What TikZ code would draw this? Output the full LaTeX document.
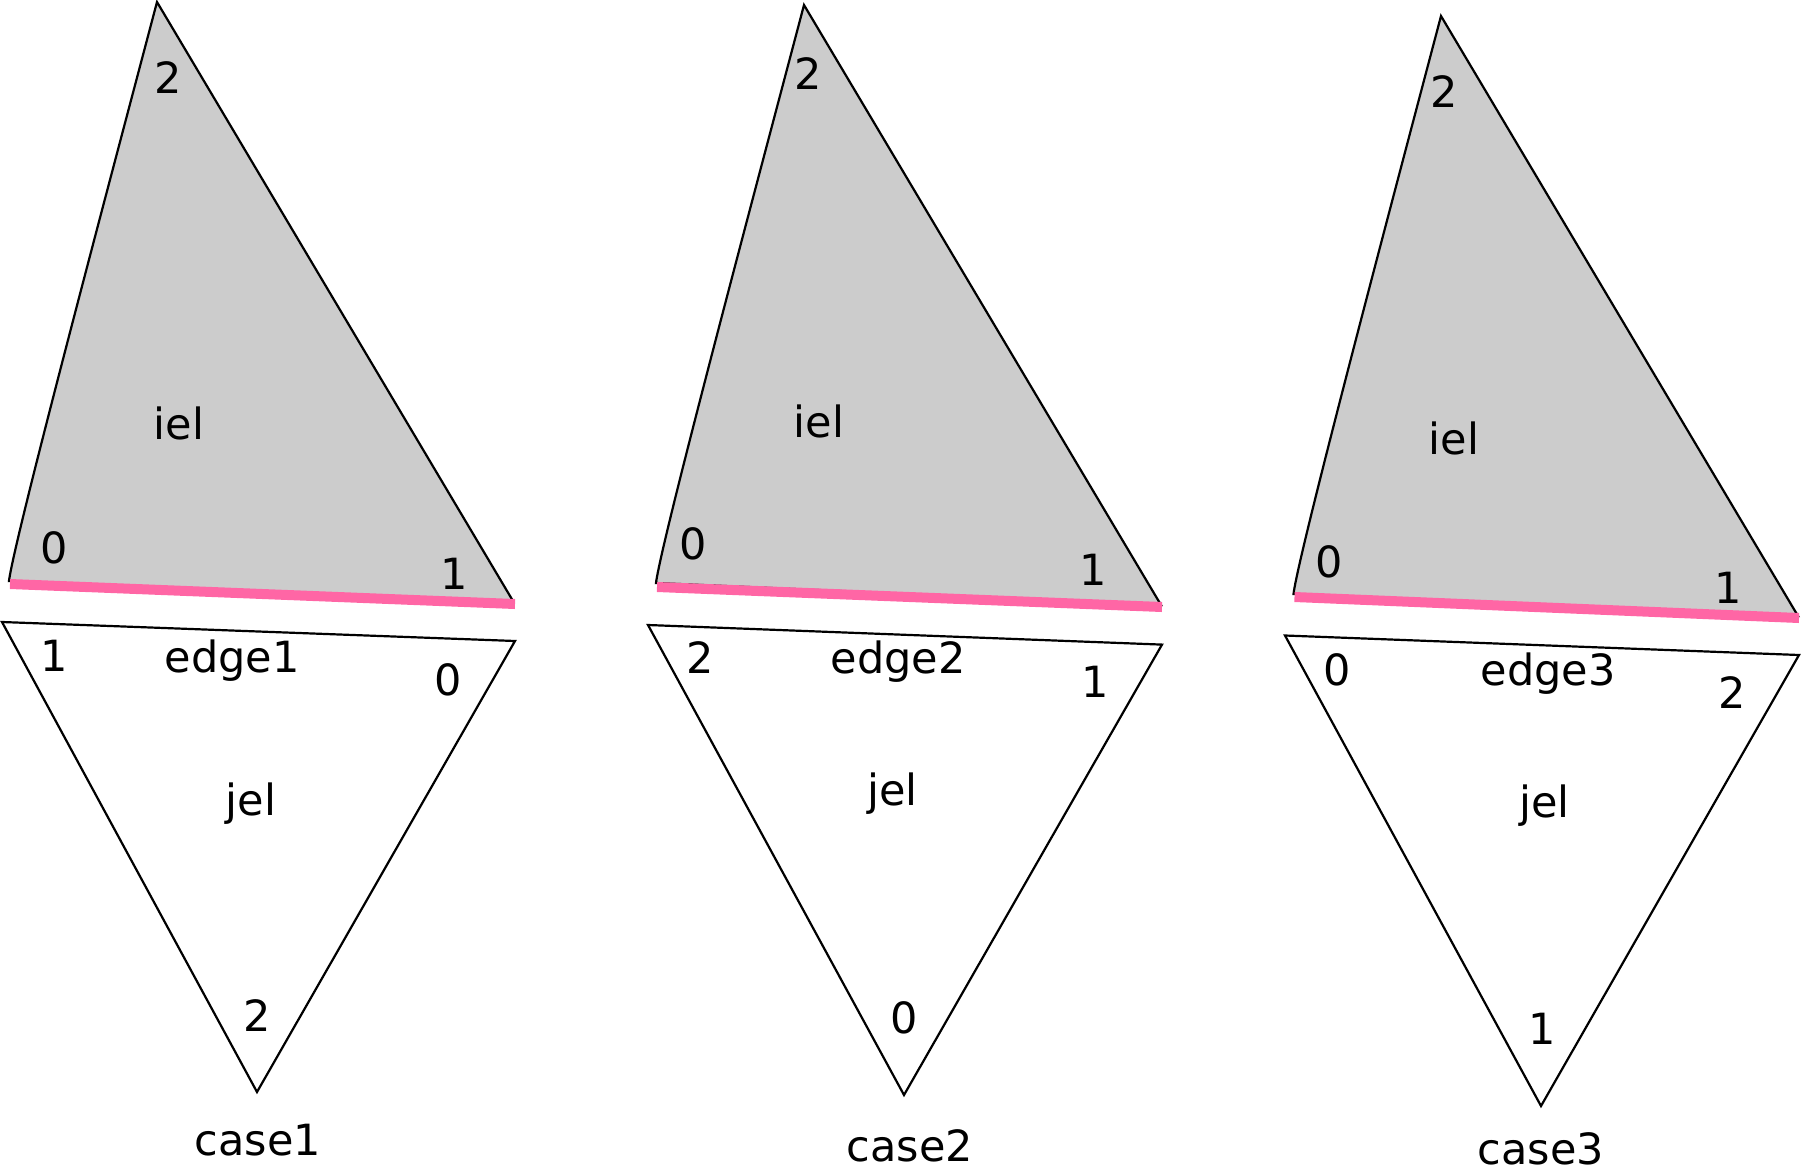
\documentclass[tikz,border=0pt]{standalone}
\usepackage{fontspec}
\setmainfont{DejaVu Sans}
\usetikzlibrary{calc}

\definecolor{ielgray}{RGB}{204,204,204}
\definecolor{edgepink}{RGB}{255,102,165}

\begin{document}
\begin{tikzpicture}[x = 0.5pt, y = -0.5pt,
	tri/.style = {draw = black, line width = 1.1pt},
	shared/.style = {edgepink, line width = 5pt},
	lbl/.style = {anchor = base, inner sep = 0pt, font = \fontsize{21.5}{26}\selectfont}]

	\useasboundingbox (0, 0) rectangle (1801, 1173);

	% Case 1

	\coordinate (i1a) at (9, 581);
	\coordinate (i1b) at (513, 601);
	\coordinate (i1c) at (157, 2);
	\draw [tri, fill = ielgray] (i1a) .. controls +(5, -41) and +(-47, 178) .. (i1c) -- (i1b) -- cycle;
	\draw [shared] (10, 584) coordinate (p1a) -- (515, 604) coordinate (p1b);

	\coordinate (j1a) at (2, 622);
	\coordinate (j1b) at (515, 641);
	\coordinate (j1c) at (257, 1092);
	\draw [tri] (j1a) -- (j1b) -- (j1c) -- cycle;

	\node [lbl] (i1n2) at (168, 93) {2};
	\node [lbl] (iel1) at (179, 439) {iel};
	\node [lbl] (i1n0) at (54, 563.5) {0};
	\node [lbl] (i1n1) at (454, 589) {1};

	\node [lbl] (j1n1) at (54, 671.4) {1};
	\node [lbl] (edge1) at (232, 672.6) {edge1};
	\node [lbl] (j1n0) at (448, 695) {0};
	\node [lbl] (jel1) at (251, 815) {jel};
	\node [lbl] (j1n2) at (257, 1031) {2};
	\node [lbl] (case1) at (258, 1155) {case1};

	% Case 2

	\coordinate (i2a) at (656, 583);
	\coordinate (i2b) at (1161, 605);
	\coordinate (i2c) at (804, 5);
	\draw [tri, fill = ielgray] (i2a) .. controls +(5, -41) and +(-47, 178) .. (i2c) -- (i2b) -- cycle;
	\draw [shared] (657, 587) coordinate (p2a) -- (1162, 607) coordinate (p2b);

	\coordinate (j2a) at (648, 625);
	\coordinate (j2b) at (1162, 644.6);
	\coordinate (j2c) at (904, 1095);
	\draw [tri] (j2a) -- (j2b) -- (j2c) -- cycle;

	\node [lbl] (i2n2) at (808.6, 89) {2};
	\node [lbl] (iel2) at (819, 437) {iel};
	\node [lbl] (i2n0) at (693, 559.5) {0};
	\node [lbl] (i2n1) at (1093, 585) {1};

	\node [lbl] (j2n2) at (700, 673) {2};
	\node [lbl] (edge2) at (898, 673) {edge2};
	\node [lbl] (j2n1) at (1095, 697) {1};
	\node [lbl] (jel2) at (892.5, 805.4) {jel};
	\node [lbl] (j2n0) at (904, 1033) {0};
	\node [lbl] (case2) at (910, 1161) {case2};

	% Case 3

	\coordinate (i3a) at (1293.5, 594);
	\coordinate (i3b) at (1798, 616);
	\coordinate (i3c) at (1441, 16);
	\draw [tri, fill = ielgray] (i3a) .. controls +(5, -41) and +(-47, 178) .. (i3c) -- (i3b) -- cycle;
	\draw [shared] (1294.5, 597) coordinate (p3a) -- (1799, 618) coordinate (p3b);

	\coordinate (j3a) at (1285, 635.5);
	\coordinate (j3b) at (1799, 655);
	\coordinate (j3c) at (1541, 1106);
	\draw [tri] (j3a) -- (j3b) -- (j3c) -- cycle;

	\node [lbl] (i3n2) at (1444, 107) {2};
	\node [lbl] (iel3) at (1454, 454) {iel};
	\node [lbl] (i3n0) at (1329, 577.5) {0};
	\node [lbl] (i3n1) at (1728.6, 603) {1};

	\node [lbl] (j3n0) at (1337.6, 685) {0};
	\node [lbl] (edge3) at (1548, 685) {edge3};
	\node [lbl] (j3n2) at (1732, 708) {2};
	\node [lbl] (jel3) at (1544.7, 817.5) {jel};
	\node [lbl] (j3n1) at (1542, 1044) {1};
	\node [lbl] (case3) at (1541, 1164) {case3};

\end{tikzpicture}
\end{document}
